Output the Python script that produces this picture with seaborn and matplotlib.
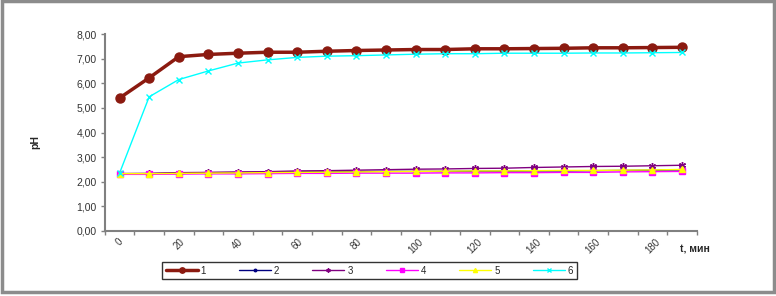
import numpy as np
import pandas as pd
import matplotlib
matplotlib.use("Agg")
import matplotlib.pyplot as plt
from matplotlib.patches import Rectangle
from matplotlib.ticker import FuncFormatter
import seaborn as sns

sns.set_style("white")
plt.rcParams['font.family'] = ['Liberation Sans', 'DejaVu Sans']

# time, min
t = list(range(0, 200, 10))

# pH values for each series
s1 = [5.40, 6.22, 7.08, 7.17, 7.22, 7.26, 7.26, 7.30, 7.33, 7.35,
      7.37, 7.37, 7.40, 7.40, 7.41, 7.42, 7.44, 7.44, 7.45, 7.46]
s2 = [2.33, 2.33, 2.36, 2.37, 2.37, 2.38, 2.40, 2.40, 2.41, 2.42,
      2.42, 2.42, 2.43, 2.43, 2.44, 2.44, 2.45, 2.46, 2.47, 2.48]
s3 = [2.33, 2.34, 2.37, 2.38, 2.40, 2.41, 2.44, 2.45, 2.47, 2.49,
      2.51, 2.52, 2.54, 2.55, 2.58, 2.60, 2.62, 2.63, 2.65, 2.67]
s4 = [2.30, 2.30, 2.31, 2.32, 2.32, 2.33, 2.34, 2.34, 2.35, 2.35,
      2.35, 2.36, 2.36, 2.37, 2.37, 2.38, 2.38, 2.40, 2.41, 2.42]
s5 = [2.33, 2.33, 2.34, 2.35, 2.36, 2.37, 2.38, 2.39, 2.40, 2.41,
      2.42, 2.43, 2.44, 2.44, 2.45, 2.46, 2.46, 2.47, 2.48, 2.50]
s6 = [2.35, 5.45, 6.15, 6.50, 6.82, 6.95, 7.05, 7.10, 7.12, 7.15,
      7.18, 7.20, 7.20, 7.22, 7.22, 7.22, 7.23, 7.23, 7.24, 7.25]

names = ["1", "2", "3", "4", "5", "6"]
values = [s1, s2, s3, s4, s5, s6]

# colour, marker, marker size, line width
styles = {
    "1": ("#8b1a10", "o", 6.5, 2.5),
    "2": ("#000080", "o", 3, 1.0),
    "3": ("#800080", (6, 2, 0), 5, 1.0),
    "4": ("#ff00ff", "s", 5, 1.0),
    "5": ("#ffff00", "^", 5, 1.0),
    "6": ("#00ffff", "x", 4, 1.0),
}

fig = plt.figure(figsize=(7.76, 2.96), dpi=100)
ax = fig.add_axes([0.135, 0.2196, 0.763, 0.6655])

for name, vals in zip(names, values):
    c, m, ms, lw = styles[name]
    sns.lineplot(x=t, y=vals, ax=ax, color=c, marker=m, markersize=ms,
                 markeredgecolor=c, markeredgewidth=1.0, linewidth=lw,
                 label=name)

ax.set_xlim(-5, 195)
ax.set_ylim(0, 8)
ax.set_yticks(np.arange(0, 9, 1))
ax.yaxis.set_major_formatter(FuncFormatter(lambda v, p: f"{v:.2f}".replace(".", ",")))
ax.set_xticks(range(0, 190, 20))
ax.set_xticklabels([str(v) for v in range(0, 190, 20)], rotation=45,
                   ha="center", va="top")
ax.set_xticks(np.arange(-5, 200, 10), minor=True)
ax.tick_params(axis="x", which="major", length=0, labelsize=7, pad=4,
               labelcolor="#333333")
ax.tick_params(axis="x", which="minor", length=3, width=1, color="#808080",
               direction="out", bottom=True)
ax.tick_params(axis="y", length=3, width=1, color="#808080", direction="out",
               left=True, labelsize=7.5, labelcolor="#333333", pad=3)
for sp in ["top", "right"]:
    ax.spines[sp].set_visible(False)
for sp in ["left", "bottom"]:
    ax.spines[sp].set_color("#808080")
    ax.spines[sp].set_linewidth(1.5)
ax.set_xlabel("")
ax.set_ylabel("")

fig.text(35 / 776, 1 - 142 / 296, "pH", rotation=90, ha="center", va="center",
         fontsize=7.5, fontweight="bold")
fig.text(680 / 776, 1 - 250 / 296, "t, мин", ha="left", va="center",
         fontsize=7.5, fontweight="bold")

ax.get_legend().remove()
handles, labels = ax.get_legend_handles_labels()
leg = fig.legend(handles, labels, loc="center", bbox_to_anchor=(0.476, 0.086),
                 ncol=6, fontsize=7, handlelength=3.3, columnspacing=3.4,
                 handletextpad=0.3, frameon=True, fancybox=False,
                 borderpad=0.35, markerscale=0.6)
leg.get_frame().set_edgecolor("black")
leg.get_frame().set_linewidth(1.0)

# outer frame around the picture
fig.patches.append(Rectangle((0.003, 0.012), 0.994, 0.985, transform=fig.transFigure,
                             fill=False, edgecolor="#8c8c8c", linewidth=2.5))

fig.savefig("out.png", dpi=100)
